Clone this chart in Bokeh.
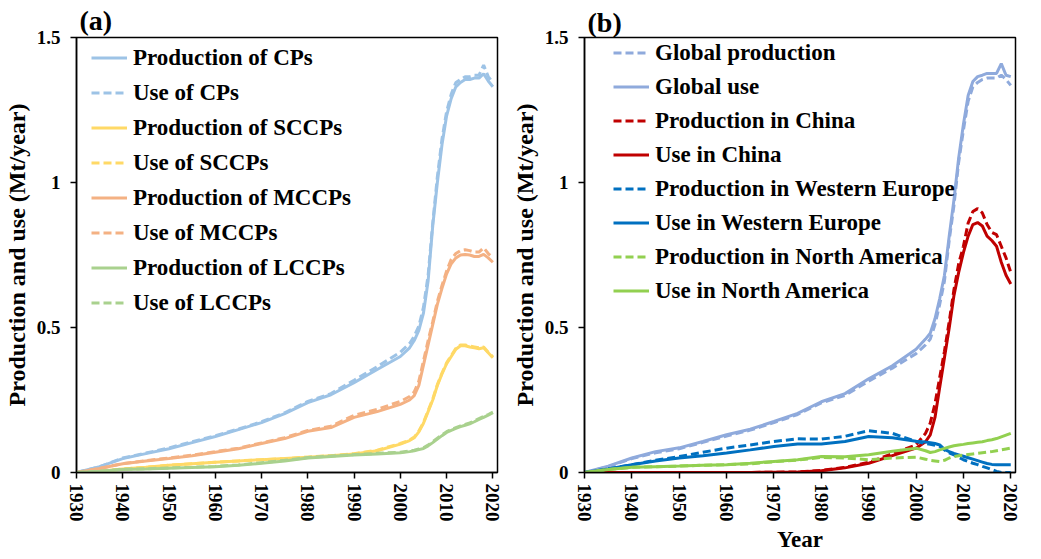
from bokeh.plotting import figure
from bokeh.models import Range1d, FixedTicker, NumeralTickFormatter, Legend, LegendItem, Title
from bokeh.layouts import row
from bokeh.embed import file_html
from bokeh.resources import INLINE

# ---------------- data ----------------
years = [1930, 1935, 1940, 1945, 1950, 1955, 1960, 1965, 1970, 1975, 1980, 1985, 1990, 1995,
         2000, 2002, 2003, 2004, 2005, 2006, 2007, 2008, 2009, 2010, 2011, 2012, 2013, 2014,
         2015, 2016, 2017, 2018, 2019, 2020]

# panel (a)
cp_prod = [0, 0.02, 0.048, 0.065, 0.082, 0.103, 0.124, 0.148, 0.172, 0.203, 0.241, 0.268, 0.31, 0.355,
           0.400, 0.43, 0.455, 0.49, 0.55, 0.66, 0.85, 1.0, 1.13, 1.23, 1.29, 1.33, 1.345, 1.355,
           1.355, 1.36, 1.36, 1.375, 1.35, 1.33]
cp_use = [0, 0.02, 0.05, 0.067, 0.085, 0.106, 0.127, 0.15, 0.175, 0.206, 0.245, 0.272, 0.318, 0.365,
          0.415, 0.445, 0.47, 0.505, 0.57, 0.68, 0.86, 1.02, 1.15, 1.245, 1.305, 1.345, 1.355, 1.365,
          1.365, 1.37, 1.37, 1.405, 1.365, 1.345]
sccp_prod = [0, 0.004, 0.012, 0.018, 0.025, 0.03, 0.035, 0.04, 0.044, 0.048, 0.053, 0.058, 0.064, 0.075,
             0.098, 0.11, 0.12, 0.14, 0.17, 0.21, 0.25, 0.30, 0.34, 0.375, 0.40, 0.425, 0.437, 0.437,
             0.433, 0.43, 0.427, 0.43, 0.413, 0.396]
sccp_use = [0, 0.004, 0.012, 0.018, 0.025, 0.03, 0.035, 0.04, 0.044, 0.048, 0.053, 0.058, 0.065, 0.077,
            0.100, 0.112, 0.122, 0.143, 0.173, 0.213, 0.253, 0.303, 0.343, 0.378, 0.403, 0.428, 0.44, 0.44,
            0.436, 0.433, 0.43, 0.433, 0.415, 0.398]
mccp_prod = [0, 0.014, 0.03, 0.04, 0.048, 0.058, 0.07, 0.082, 0.10, 0.117, 0.142, 0.155, 0.19, 0.21,
             0.235, 0.25, 0.265, 0.30, 0.37, 0.44, 0.51, 0.58, 0.635, 0.685, 0.72, 0.74, 0.75, 0.752,
             0.75, 0.745, 0.745, 0.752, 0.74, 0.725]
mccp_use = [0, 0.014, 0.031, 0.041, 0.05, 0.06, 0.072, 0.084, 0.102, 0.12, 0.145, 0.16, 0.197, 0.218,
            0.245, 0.262, 0.278, 0.315, 0.385, 0.455, 0.52, 0.59, 0.645, 0.695, 0.735, 0.755, 0.765, 0.768,
            0.765, 0.76, 0.76, 0.775, 0.755, 0.74]
lccp_prod = [0, 0.004, 0.01, 0.012, 0.015, 0.017, 0.02, 0.025, 0.032, 0.04, 0.05, 0.055, 0.06, 0.064,
             0.068, 0.072, 0.075, 0.079, 0.083, 0.092, 0.103, 0.115, 0.127, 0.138, 0.145, 0.152, 0.158, 0.163,
             0.168, 0.175, 0.183, 0.19, 0.198, 0.206]
lccp_use = [0, 0.004, 0.011, 0.013, 0.016, 0.018, 0.021, 0.026, 0.034, 0.042, 0.052, 0.057, 0.062, 0.066,
            0.07, 0.074, 0.077, 0.081, 0.085, 0.095, 0.106, 0.118, 0.13, 0.141, 0.148, 0.155, 0.161, 0.166,
            0.171, 0.178, 0.186, 0.193, 0.2, 0.208]

# panel (b)
glob_prod = [0, 0.02, 0.048, 0.068, 0.082, 0.104, 0.126, 0.146, 0.172, 0.2, 0.24, 0.266, 0.315, 0.36,
             0.41, 0.44, 0.46, 0.51, 0.58, 0.66, 0.8, 0.92, 1.07, 1.18, 1.28, 1.33, 1.345, 1.355,
             1.36, 1.36, 1.36, 1.37, 1.355, 1.335]
glob_use = [0, 0.022, 0.05, 0.072, 0.085, 0.107, 0.13, 0.149, 0.176, 0.204, 0.244, 0.272, 0.323, 0.368,
            0.425, 0.46, 0.48, 0.53, 0.6, 0.68, 0.815, 0.94, 1.085, 1.2, 1.3, 1.348, 1.365, 1.37,
            1.376, 1.376, 1.376, 1.41, 1.37, 1.365]
china_prod = [0, 0, 0, 0, 0, 0, 0, 0, 0.001, 0.002, 0.007, 0.018, 0.035, 0.065,
              0.095, 0.135, 0.17, 0.237, 0.328, 0.418, 0.52, 0.63, 0.72, 0.78, 0.86, 0.90, 0.91, 0.895,
              0.855, 0.828, 0.82, 0.78, 0.74, 0.69]
china_use = [0, 0, 0, 0, 0, 0, 0, 0, 0.001, 0.002, 0.006, 0.016, 0.032, 0.058,
             0.084, 0.106, 0.13, 0.19, 0.294, 0.396, 0.498, 0.61, 0.69, 0.758, 0.815, 0.855, 0.862, 0.85,
             0.815, 0.80, 0.78, 0.725, 0.68, 0.65]
we_prod = [0, 0.012, 0.027, 0.042, 0.055, 0.07, 0.084, 0.095, 0.107, 0.116, 0.115, 0.125, 0.144, 0.135,
           0.107, 0.1, 0.097, 0.094, 0.09, 0.078, 0.068, 0.061, 0.052, 0.044, 0.038, 0.032, 0.027, 0.021,
           0.016, 0.01, 0.004, 0.0, 0.0, 0.0]
we_use = [0, 0.012, 0.027, 0.04, 0.05, 0.058, 0.067, 0.078, 0.09, 0.098, 0.098, 0.107, 0.124, 0.12,
          0.108, 0.105, 0.103, 0.1, 0.095, 0.08, 0.072, 0.066, 0.061, 0.056, 0.051, 0.046, 0.041, 0.036,
          0.031, 0.028, 0.027, 0.027, 0.027, 0.027]
na_prod = [0, 0.01, 0.018, 0.02, 0.022, 0.025, 0.027, 0.03, 0.037, 0.043, 0.052, 0.05, 0.044, 0.05,
           0.053, 0.046, 0.042, 0.04, 0.038, 0.042, 0.05, 0.055, 0.058, 0.06, 0.062, 0.064, 0.066, 0.068,
           0.07, 0.072, 0.075, 0.078, 0.081, 0.084]
na_use = [0, 0.01, 0.018, 0.02, 0.022, 0.025, 0.027, 0.032, 0.038, 0.044, 0.055, 0.054, 0.061, 0.073,
          0.084, 0.075, 0.069, 0.072, 0.078, 0.083, 0.088, 0.092, 0.095, 0.097, 0.1, 0.102, 0.104, 0.106,
          0.11, 0.113, 0.117, 0.123, 0.129, 0.135]

x_ticks = [1930, 1940, 1950, 1960, 1970, 1980, 1990, 2000, 2010, 2020]
y_ticks = [0, 0.5, 1, 1.5]
y_label = "Production and use (Mt/year)"

FONT = "Liberation Serif"


def make_fig(width, bl, br, bt, panel_title, title_standoff):
    p = figure(width=width, height=551, x_range=Range1d(1930, 2021), y_range=Range1d(0, 1.5),
               output_backend="svg", toolbar_location=None,
               min_border_left=bl, min_border_right=br, min_border_top=bt, min_border_bottom=78)
    p.title.text = panel_title
    p.title.align = "left"
    p.title.offset = 3
    p.title.standoff = title_standoff
    p.title.text_font = FONT
    p.title.text_font_style = "bold"
    p.title.text_font_size = "28px"
    p.title.text_color = "black"
    p.xgrid.visible = False
    p.ygrid.visible = False
    p.outline_line_color = "black"
    p.outline_line_width = 1.5
    p.background_fill_color = "white"
    p.border_fill_color = "white"
    for ax in (p.xaxis[0], p.yaxis[0]):
        ax.axis_line_color = "black"
        ax.axis_line_width = 1.5
        ax.major_tick_line_color = "black"
        ax.major_tick_line_width = 1.5
        ax.major_tick_out = 6
        ax.major_tick_in = 0
        ax.minor_tick_line_color = None
        ax.major_label_text_font = FONT
        ax.major_label_text_font_style = "bold"
        ax.major_label_text_font_size = "19px"
        ax.major_label_text_color = "black"
    p.xaxis.ticker = FixedTicker(ticks=x_ticks)
    p.yaxis.ticker = FixedTicker(ticks=y_ticks)
    p.yaxis.formatter = NumeralTickFormatter(format="0.[0]")
    p.xaxis.major_label_orientation = "vertical"
    p.xaxis.major_label_standoff = 5
    p.yaxis.major_label_standoff = 10
    p.yaxis.axis_label = y_label
    p.yaxis.axis_label_text_font = FONT
    p.yaxis.axis_label_text_font_style = "bold"
    p.yaxis.axis_label_text_font_size = "24px"
    p.yaxis.axis_label_text_color = "black"
    p.yaxis.axis_label_standoff = 4
    return p


def add_legend(p, items, loc, spacing):
    lg = Legend(items=[LegendItem(label=l, renderers=[r]) for l, r in items],
                location=loc, margin=0, padding=0, spacing=spacing,
                glyph_width=36, glyph_height=27, label_height=27, label_standoff=6,
                label_text_font=FONT, label_text_font_style="bold", label_text_font_size="23px",
                label_text_color="black", background_fill_alpha=0, border_line_alpha=0)
    p.add_layout(lg)


# ---------- panel (a) ----------
pa = make_fig(506, 69, 9, 37, "(a)", 4)
series_a = [
    ("Production of CPs", cp_prod, "#9DC3E6", "solid"),
    ("Use of CPs", cp_use, "#9DC3E6", "8 4"),
    ("Production of SCCPs", sccp_prod, "#FFD966", "solid"),
    ("Use of SCCPs", sccp_use, "#FFD966", "8 4"),
    ("Production of MCCPs", mccp_prod, "#F4B183", "solid"),
    ("Use of MCCPs", mccp_use, "#F4B183", "8 4"),
    ("Production of LCCPs", lccp_prod, "#A9D18E", "solid"),
    ("Use of LCCPs", lccp_use, "#A9D18E", "8 4"),
]
items_a = []
for name, vals, col, dash in series_a:
    r = pa.line(years, vals, line_color=col, line_width=3, line_dash=dash)
    items_a.append((name, r))
add_legend(pa, items_a, (15, 156), 8)

# ---------- panel (b) ----------
pb = make_fig(519, 78, 10, 32, "(b)", 0)
series_b = [
    ("Global production", glob_prod, "#8FAADC", "8 4"),
    ("Global use", glob_use, "#8FAADC", "solid"),
    ("Production in China", china_prod, "#C00000", "8 4"),
    ("Use in China", china_use, "#C00000", "solid"),
    ("Production in Western Europe", we_prod, "#0070C0", "8 4"),
    ("Use in Western Europe", we_use, "#0070C0", "solid"),
    ("Production in North America", na_prod, "#92D050", "8 4"),
    ("Use in North America", na_use, "#92D050", "solid"),
]
items_b = []
for name, vals, col, dash in series_b:
    r = pb.line(years, vals, line_color=col, line_width=3, line_dash=dash)
    items_b.append((name, r))
add_legend(pb, items_b, (29, 168), 7)
pb.add_layout(Title(text="Year", align="center", offset=-18, standoff=0,
                    text_font=FONT, text_font_style="bold", text_font_size="23px",
                    text_color="black"), "below")

layout = row(pa, pb)
open("out.html", "w").write(file_html(layout, INLINE))
